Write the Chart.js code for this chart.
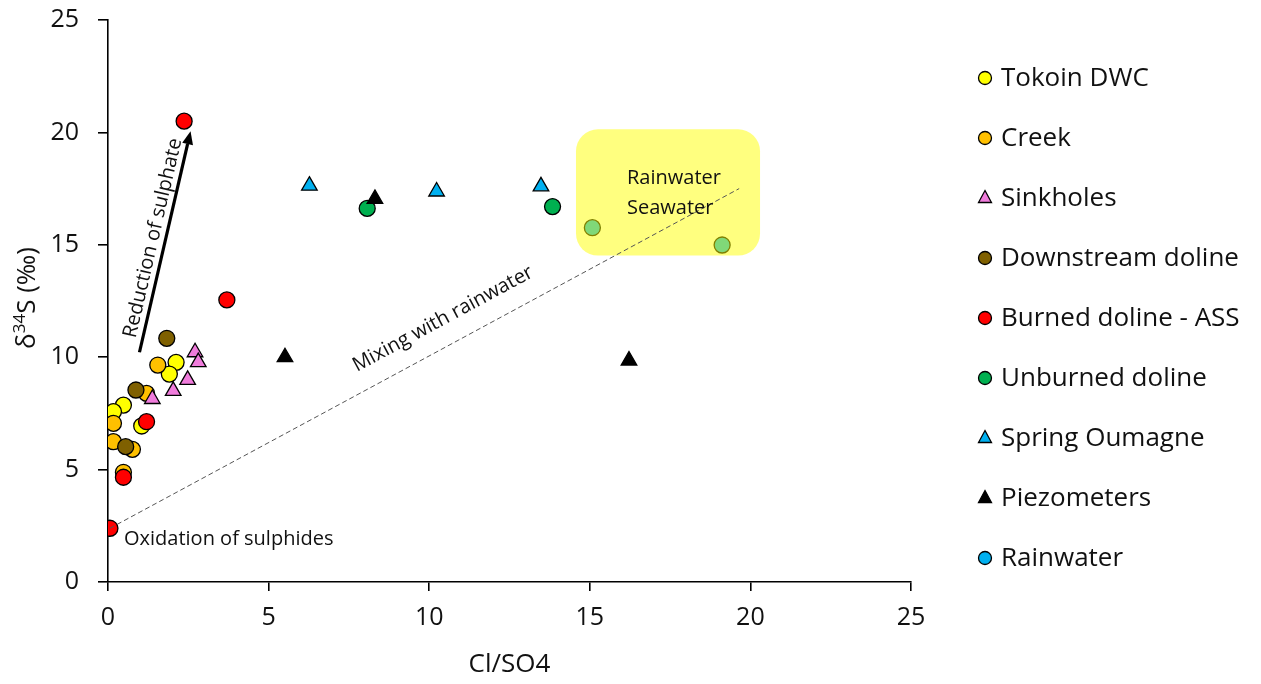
<!DOCTYPE html>
<html>
<head>
<meta charset="utf-8">
<script src="https://cdn.jsdelivr.net/npm/chart.js@4/dist/chart.umd.min.js"></script>
<style>
  html, body { margin: 0; padding: 0; background: #fff; }
  #wrap { width: 1261px; height: 684px; position: relative; }
</style>
</head>
<body>
<div id="wrap"><canvas id="c" width="1261" height="684"></canvas></div>
<script>
// ---- Data (Cl/SO4, δ34S) ----
const tokoinDWC   = [[2.12,9.77],[1.91,9.25],[0.48,7.87],[0.17,7.58],[1.05,6.94]];
const creek       = [[1.55,9.65],[1.20,8.39],[0.17,7.06],[0.17,6.24],[0.76,5.90],[0.48,4.88]];
const sinkholes   = [[2.71,10.22],[2.81,9.78],[2.48,8.99],[2.03,8.5],[1.38,8.14]];
const downstream  = [[1.83,10.84],[0.87,8.54],[0.55,6.02]];
const burned      = [[2.37,20.5],[3.70,12.55],[1.20,7.13],[0.48,4.66],[0.06,2.39]];
const unburned    = [[8.07,16.62],[13.84,16.70]];
const spring      = [[6.27,17.63],[10.23,17.37],[13.48,17.6]];
const piezometers = [[5.51,10.0],[8.31,17.04],[16.22,9.85]];
const rainwater   = [[15.08,15.76],[19.12,14.99]];

const seriesNames = ['Tokoin DWC','Creek','Sinkholes','Downstream doline','Burned doline - ASS','Unburned doline','Spring Oumagne','Piezometers','Rainwater'];
const xTicks = [0,5,10,15,20,25];
const yTicks = [0,5,10,15,20,25];

// annotation anchors (data units)
const mixLine    = [[0.06,2.39],[19.65,17.5]];
const sulphArrow = [[0.98,10.22],[2.57,20.05]];
const seaBox     = [[14.57,20.14],[20.3,14.52]];

const FONT = '"Open Sans", "Liberation Sans", sans-serif';

function pts(a){ return a.map(p => ({x:p[0], y:p[1]})); }

const styles = [
  {bg:'#FFFF00', shape:'circle'},
  {bg:'#FFC000', shape:'circle'},
  {bg:'#F07CDC', shape:'triangle'},
  {bg:'#7F6000', shape:'circle'},
  {bg:'#FF0000', shape:'circle'},
  {bg:'#00B050', shape:'circle'},
  {bg:'#00B0F0', shape:'triangle'},
  {bg:'#000000', shape:'triangle'},
  {bg:'#00B0F0', shape:'circle'}
];
const allData = [tokoinDWC, creek, sinkholes, downstream, burned, unburned, spring, piezometers, rainwater];

const datasets = allData.map((d,i) => ({
  label: seriesNames[i],
  data: pts(d),
  backgroundColor: styles[i].bg,
  borderColor: '#000',
  borderWidth: 1.3,
  pointStyle: styles[i].shape,
  pointRadius: styles[i].shape === 'triangle' ? 9 : 8,
  pointHoverRadius: 8,
  order: 20 - i
}));

const annotPlugin = {
  id: 'annot',
  afterDatasetsDraw(chart) {
    const ctx = chart.ctx, xs = chart.scales.x, ys = chart.scales.y;
    const X = v => xs.getPixelForValue(v), Y = v => ys.getPixelForValue(v);
    ctx.save();
    // yellow box (translucent, over the rainwater points)
    const bx0 = X(seaBox[0][0]), by0 = Y(seaBox[0][1]), bx1 = X(seaBox[1][0]), by1 = Y(seaBox[1][1]);
    ctx.fillStyle = 'rgba(255,255,0,0.5)';
    ctx.beginPath();
    ctx.roundRect(bx0, by0, bx1-bx0, by1-by0, 22);
    ctx.fill();
    // dashed mixing line
    ctx.strokeStyle = '#555';
    ctx.lineWidth = 1;
    ctx.setLineDash([5,3]);
    ctx.beginPath();
    ctx.moveTo(X(mixLine[0][0]), Y(mixLine[0][1]));
    ctx.lineTo(X(mixLine[1][0]), Y(mixLine[1][1]));
    ctx.stroke();
    ctx.setLineDash([]);
    // arrow
    const ax0 = X(sulphArrow[0][0]), ay0 = Y(sulphArrow[0][1]), ax1 = X(sulphArrow[1][0]), ay1 = Y(sulphArrow[1][1]);
    const ang = Math.atan2(ay1-ay0, ax1-ax0);
    const hl = 13, hw = 5.5;
    const bxh = ax1 - hl*Math.cos(ang), byh = ay1 - hl*Math.sin(ang);
    ctx.strokeStyle = '#000'; ctx.lineWidth = 3.2;
    ctx.beginPath(); ctx.moveTo(ax0, ay0); ctx.lineTo(bxh, byh); ctx.stroke();
    ctx.fillStyle = '#000';
    ctx.beginPath();
    ctx.moveTo(ax1, ay1);
    ctx.lineTo(bxh + hw*Math.sin(ang), byh - hw*Math.cos(ang));
    ctx.lineTo(bxh - hw*Math.sin(ang), byh + hw*Math.cos(ang));
    ctx.closePath(); ctx.fill();
    // texts
    ctx.fillStyle = '#111';
    ctx.font = '20px ' + FONT;
    ctx.textBaseline = 'middle';
    ctx.textAlign = 'left';
    ctx.fillText('Rainwater', 627, 178);
    ctx.fillText('Seawater', 627, 208);
    ctx.fillText('Oxidation of sulphides', 124, 539);
    // rotated: Mixing with rainwater
    ctx.save();
    ctx.translate(443, 319);
    ctx.rotate(-Math.atan2(340, 629));
    ctx.textAlign = 'center';
    ctx.fillText('Mixing with rainwater', 0, 0);
    ctx.restore();
    // rotated: Reduction of sulphate
    ctx.save();
    ctx.translate(153, 238);
    ctx.rotate(ang);
    ctx.textAlign = 'center';
    ctx.fillText('Reduction of sulphate', 0, 0);
    ctx.restore();
    ctx.restore();
  },
  afterDraw(chart) {
    const ctx = chart.ctx;
    ctx.save();
    // y-axis title with superscript
    ctx.translate(35, 298);
    ctx.rotate(-Math.PI/2);
    ctx.fillStyle = '#111';
    ctx.textBaseline = 'alphabetic';
    const big = '26px ' + FONT, small = '17px ' + FONT;
    ctx.font = big; const w1 = ctx.measureText('δ').width;
    ctx.font = small; const w2 = ctx.measureText('34').width;
    ctx.font = big; const w3 = ctx.measureText('S (‰)').width;
    let x = -(w1+w2+w3)/2;
    const base = 0;
    ctx.textAlign = 'left';
    ctx.font = big; ctx.fillText('δ', x, base); x += w1;
    ctx.font = small; ctx.fillText('34', x, base - 10); x += w2;
    ctx.font = big; ctx.fillText('S (‰)', x, base);
    ctx.restore();

    // legend
    ctx.save();
    ctx.font = '26px ' + FONT;
    ctx.textBaseline = 'middle';
    ctx.textAlign = 'left';
    chart.data.datasets.forEach((ds, i) => {
      const cy = 78 + i*60;
      ctx.fillStyle = ds.backgroundColor;
      ctx.strokeStyle = '#000';
      ctx.lineWidth = 1.3;
      ctx.beginPath();
      if (ds.pointStyle === 'triangle') {
        const r = 7.5;
        ctx.moveTo(985, cy - r);
        ctx.lineTo(985 + r*0.866, cy + r*0.6);
        ctx.lineTo(985 - r*0.866, cy + r*0.6);
        ctx.closePath();
      } else {
        ctx.arc(985, cy, 6.5, 0, Math.PI*2);
      }
      ctx.fill(); ctx.stroke();
      ctx.fillStyle = '#111';
      ctx.fillText(ds.label, 1001, cy + 1);
    });
    ctx.restore();
  }
};

new Chart(document.getElementById('c'), {
  type: 'scatter',
  data: { datasets },
  options: {
    responsive: false,
    animation: false,
    layout: { padding: { top: 20, right: 350, left: 0, bottom: 0 } },
    plugins: { legend: { display: false }, tooltip: { enabled: false } },
    scales: {
      x: {
        type: 'linear', min: 0, max: 25,
        afterBuildTicks: s => { s.ticks = xTicks.map(v => ({value: v})); },
        afterFit: s => { s.height = 102; s.paddingLeft = 0; s.paddingRight = 0; },
        border: { color: '#000', width: 1.6 },
        grid: { drawOnChartArea: false, drawTicks: true, tickLength: 9, color: '#000', lineWidth: 1.6 },
        ticks: { color: '#111', font: { family: FONT, size: 25 }, padding: 12 },
        title: { display: true, text: 'Cl/SO4', color: '#111', font: { family: FONT, size: 26 }, padding: { top: 12 } }
      },
      y: {
        type: 'linear', min: 0, max: 25,
        afterBuildTicks: s => { s.ticks = yTicks.map(v => ({value: v})); },
        afterFit: s => { s.width = 108; s.paddingTop = 0; s.paddingBottom = 0; },
        border: { color: '#000', width: 1.6 },
        grid: { drawOnChartArea: false, drawTicks: true, tickLength: 10, color: '#000', lineWidth: 1.6 },
        ticks: { color: '#111', font: { family: FONT, size: 25 }, padding: 19 }
      }
    }
  },
  plugins: [annotPlugin]
});
</script>
</body>
</html>
